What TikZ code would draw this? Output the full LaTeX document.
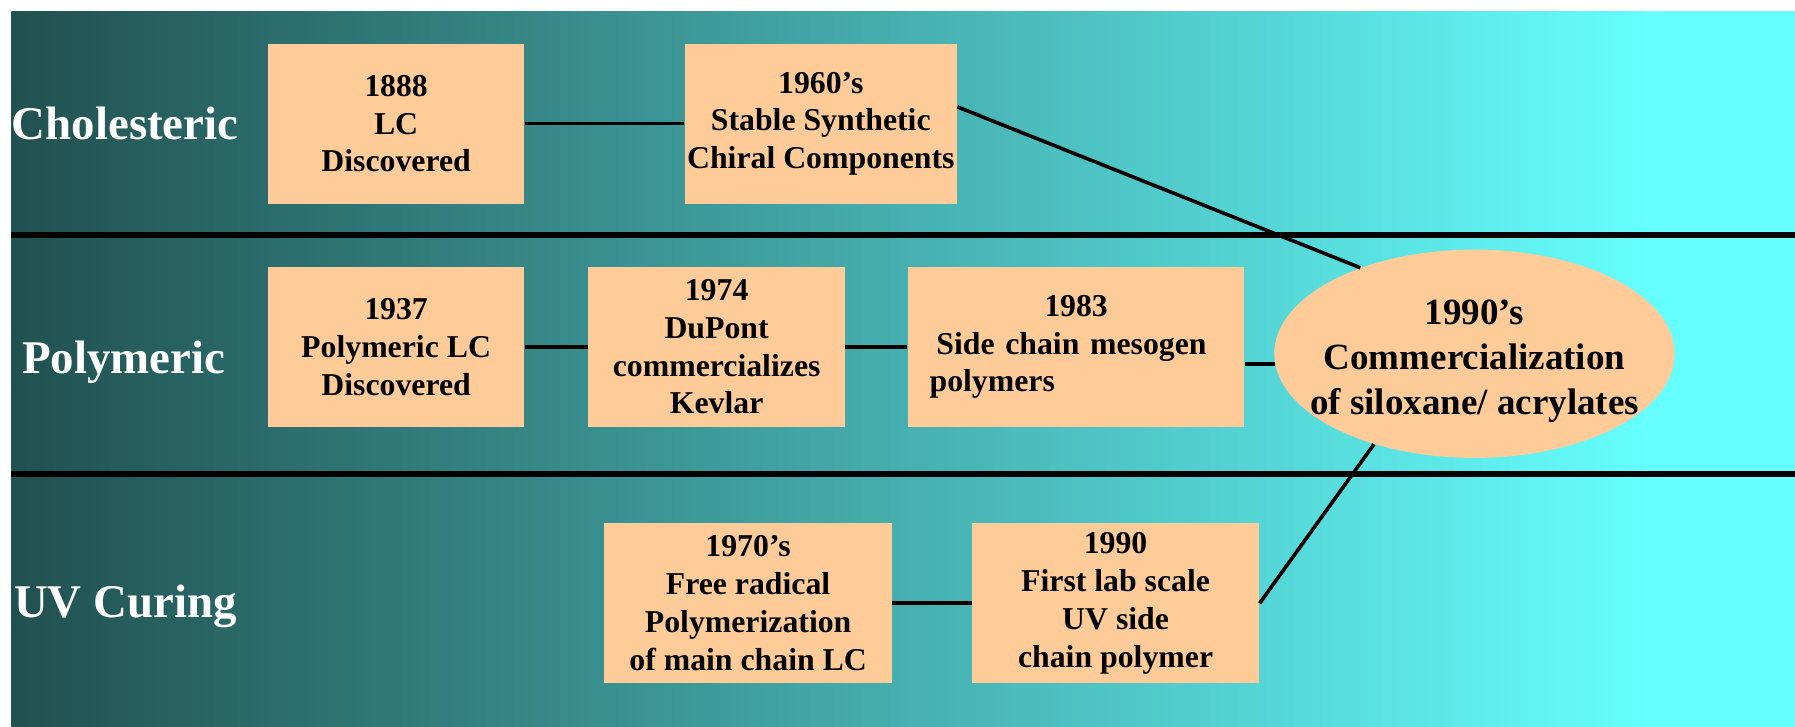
\documentclass[tikz,border=0pt]{standalone}
\usepackage{fontspec}
\setmainfont{Liberation Serif}
\usetikzlibrary{shapes.geometric}
\definecolor{peach}{RGB}{255,204,153}
\definecolor{deepteal}{RGB}{33,80,80}
\definecolor{brightcyan}{RGB}{102,255,255}
\tikzset{
  event/.style={
    fill = peach,
    inner sep = 0,
    minimum width = 4.48cm,
    minimum height = 2.8cm,
    align = center,
    font = \bfseries\fontsize{15.8}{18.8}\selectfont
  },
  era/.style={
    shape = ellipse,
    fill = peach,
    inner xsep = -0.4cm,
    inner ysep = 0,
    minimum width = 6.94cm,
    minimum height = 3.64cm,
    align = center,
    font = \bfseries\fontsize{18.4}{22.4}\selectfont
  },
  rowlabel/.style={
    anchor = base west,
    inner sep = 0,
    text = white,
    font = \bfseries\fontsize{23.3}{28}\selectfont
  },
  divider/.style={
    line width = 2.9pt
  },
  link/.style={
    line width = 1.8pt
  }
}

\begin{document}
\begin{tikzpicture}[x=0.02cm,y=-0.02cm]
            \useasboundingbox (0,0) rectangle (1568,635);
            \shade[left color=deepteal, right color=brightcyan] (10,10) rectangle (1446,635);
            \fill[brightcyan] (1445,10) rectangle (1568,635);
            \foreach \y in {205,414}{
                    \draw[divider] (10,\y) -- (1568,\y);
                }
            \node[rowlabel] (cho) at (10,122) {Cholesteric};
            \node[rowlabel] (pol) at (19,326) {Polymeric};
            \node[rowlabel] (uvc) at (12,539) {UV Curing};

            \node[event] (b1888) at (346,108) {1888\\LC\\Discovered};
            \node[event, minimum width=4.76cm] (b1960) at (717,108) {1960’s\\Stable Synthetic\\Chiral Components};
            \node[event] (b1937) at (346,303) {1937\\Polymeric LC\\Discovered};
            \node[event] (b1974) at (626,303) {1974\\DuPont\\commercializes\\Kevlar};
            \node[event, minimum width=5.88cm, inner xsep=0.38cm, text width=5.12cm, align=left] (b1983) at (940,303)
                {\hfill 1983\hfill\mbox{}\\\hspace*{0.12cm}Side chain mesogen\\polymers};
            \node[event, minimum width=5.02cm] (b1970) at (653.5,527) {1970’s\\Free radical\\Polymerization\\of main chain LC};
            \node[event, minimum width=5.02cm] (b1990) at (974.5,527) {1990\\First lab scale\\UV side\\chain polymer};
            \node[era] (ell) at (1288,309) {\rule{0pt}{20pt}1990’s\\Commercialization\\of siloxane/ acrylates};

            \draw[link] (b1888) -- (b1960);
            \draw[link] (b1960.7) -- (ell.143);
            \draw[link] (b1937) -- (b1974);
            \draw[link] (b1974) -- (b1983);
            \draw[link] (b1983.east |- ell.183) -- (ell.183);
            \draw[link] (b1970) -- (b1990);
            \draw[link] (b1990.east) -- (ell.222);
        \end{tikzpicture}
\end{document}
